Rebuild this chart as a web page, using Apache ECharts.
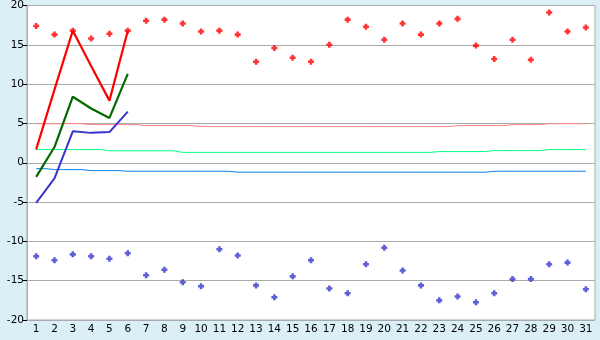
<!DOCTYPE html>
<html><head><meta charset="utf-8">
<script src="https://cdn.jsdelivr.net/npm/echarts@6/dist/echarts.min.js"></script>
<style>html,body{margin:0;padding:0;background:#daeff6;}#c{width:600px;height:340px;}</style>
</head><body><div id="c"></div>
<script>
const days = ['1','2','3','4','5','6','7','8','9','10','11','12','13','14','15','16','17','18','19','20','21','22','23','24','25','26','27','28','29','30','31'];
const yTicks = [-20,-15,-10,-5,0,5,10,15,20];
const maxPoints = [17.4,16.3,16.8,15.8,16.4,16.8,18.05,18.2,17.7,16.7,16.8,16.3,12.85,14.6,13.35,12.85,15.0,18.2,17.3,15.65,17.7,16.3,17.7,18.3,14.9,13.2,15.65,13.1,19.1,16.7,17.2];
const minPoints = [-11.9,-12.4,-11.65,-11.9,-12.2,-11.5,-14.3,-13.6,-15.2,-15.7,-11.0,-11.8,-15.6,-17.1,-14.45,-12.4,-16.0,-16.6,-12.9,-10.8,-13.7,-15.6,-17.5,-17.0,-17.75,-16.6,-14.8,-14.8,-12.9,-12.7,-16.1];
const maxLine = [1.7,9.3,16.8,12.3,7.9,16.8];
const meanLine = [-1.8,2.0,8.4,6.9,5.7,11.3];
const minLine = [-5.1,-2.0,4.0,3.8,3.9,6.5];
const maxNormal = [4.97,4.97,4.97,4.85,4.85,4.85,4.72,4.72,4.72,4.6,4.6,4.6,4.6,4.6,4.6,4.6,4.6,4.6,4.6,4.6,4.6,4.6,4.6,4.72,4.72,4.72,4.85,4.85,4.97,4.97,4.97];
const meanNormal = [1.68,1.68,1.68,1.68,1.52,1.52,1.52,1.52,1.32,1.32,1.32,1.32,1.32,1.32,1.32,1.32,1.32,1.32,1.32,1.32,1.32,1.32,1.42,1.42,1.42,1.55,1.55,1.55,1.68,1.68,1.68];
const minNormal = [-0.75,-0.87,-0.87,-1.0,-1.0,-1.08,-1.08,-1.08,-1.08,-1.08,-1.08,-1.2,-1.2,-1.2,-1.2,-1.2,-1.2,-1.2,-1.2,-1.2,-1.2,-1.2,-1.2,-1.2,-1.2,-1.08,-1.08,-1.08,-1.08,-1.08,-1.08];

const plus = 'path://M2,0H5V2H7V5H5V7H2V5H0V2H2Z';
const chart = echarts.init(document.getElementById('c'), null, {renderer:'canvas'});
const font = {fontFamily:'DejaVu Sans', fontSize:10.5, color:'#000'};
chart.setOption({
  animation:false,
  backgroundColor:'#daeff6',
  grid:{left:27,right:5,top:5,bottom:20,show:true,backgroundColor:'#fff',borderColor:'#aaaaaa',borderWidth:1},
  xAxis:{type:'category',data:days,boundaryGap:true,
    axisLine:{lineStyle:{color:'#aaaaaa'}},
    axisTick:{alignWithLabel:true,length:5,lineStyle:{color:'#000'}},
    axisLabel:Object.assign({margin:4},font),splitLine:{show:false}},
  yAxis:{type:'value',min:yTicks[0],max:yTicks[yTicks.length-1],interval:5,
    axisLine:{show:true,lineStyle:{color:'#aaaaaa'}},
    axisTick:{show:true,length:4,lineStyle:{color:'#000'}},
    axisLabel:Object.assign({margin:3},font),
    splitLine:{lineStyle:{color:'#aaaaaa',width:1}}},
  series:[
    {type:'line',data:maxNormal,step:'middle',symbol:'none',lineStyle:{color:'#ff8080',width:1},z:2},
    {type:'line',data:meanNormal,step:'middle',symbol:'none',lineStyle:{color:'#00ff80',width:1},z:2},
    {type:'line',data:minNormal,step:'middle',symbol:'none',lineStyle:{color:'#0a7ff0',width:1},z:2},
    {type:'line',data:maxLine,symbol:'none',lineStyle:{color:'#ff0000',width:2.2},z:3},
    {type:'line',data:meanLine,symbol:'none',lineStyle:{color:'#006a00',width:2.2},z:3},
    {type:'line',data:minLine,symbol:'none',lineStyle:{color:'#3636cc',width:2},z:3},
    {type:'scatter',data:maxPoints,symbol:plus,symbolSize:6,itemStyle:{color:'#ff0000'},z:4},
    {type:'scatter',data:minPoints,symbol:plus,symbolSize:6,itemStyle:{color:'#3636cc'},z:4}
  ]
});
</script></body></html>
